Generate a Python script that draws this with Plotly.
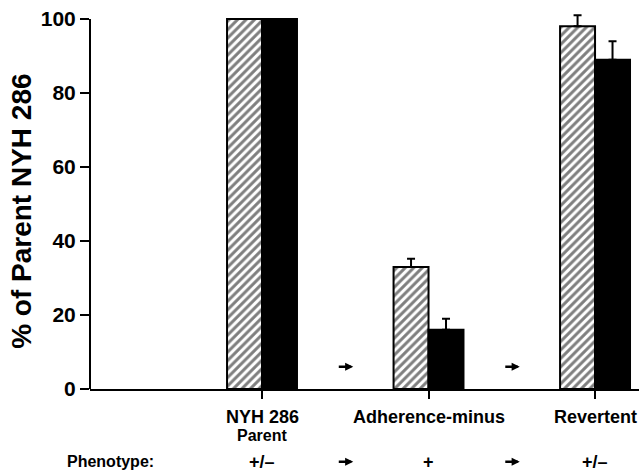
import plotly.graph_objects as go

# ---- data ----
categories = ["NYH 286", "Adherence-minus", "Revertent"]
subtitles = ["Parent", "", ""]
x_pos = [1, 2, 3]
hatched_vals = [100, 33, 98]
hatched_err = [None, 2.2, 3]
black_vals = [100, 16, 89]
black_err = [None, 3, 5]
phenotype = ["+/\u2013", "+", "+/\u2013"]
arrow_x = [1.5, 2.5]
yticks = [0, 20, 40, 60, 80, 100]

FONT = "Liberation Sans"

def f(size):
    return dict(family=FONT, size=size, color="black", weight="bold")

fig = go.Figure()
fig.add_trace(go.Bar(
    x=x_pos, y=hatched_vals,
    marker=dict(color="white", line=dict(color="black", width=2),
                pattern=dict(shape="/", fgcolor="black", bgcolor="white", size=6, solidity=0.5)),
    error_y=dict(type="data", array=hatched_err, arrayminus=[0, 0, 0], symmetric=False,
                 color="black", thickness=2, width=4),
    showlegend=False,
))
fig.add_trace(go.Bar(
    x=x_pos, y=black_vals,
    marker=dict(color="black", line=dict(color="black", width=2)),
    error_y=dict(type="data", array=black_err, arrayminus=[0, 0, 0], symmetric=False,
                 color="black", thickness=2, width=4),
    showlegend=False,
))

annotations = []
# category labels
for xv, lab, sub in zip(x_pos, categories, subtitles):
    annotations.append(dict(x=xv, y=-0.073, xref="x", yref="paper", text=lab, showarrow=False,
                            yanchor="middle", xanchor="center", font=f(18)))
    if sub:
        annotations.append(dict(x=xv, y=-0.121, xref="x", yref="paper", text=sub, showarrow=False,
                                yanchor="middle", xanchor="center", font=f(16)))
# phenotype row
annotations.append(dict(x=0.038, y=-0.19, xref="paper", yref="paper", text="Phenotype:",
                        showarrow=False, xanchor="center", yanchor="middle", font=f(16)))
for xv, ph in zip(x_pos, phenotype):
    annotations.append(dict(x=xv, y=-0.19, xref="x", yref="paper", text=ph, showarrow=False,
                            xanchor="center", yanchor="middle", font=f(18)))
# arrows
arrow_style = dict(text="", showarrow=True, arrowhead=2, arrowsize=0.65, arrowwidth=2.5,
                   arrowcolor="black", ax=-16, ay=0, xshift=8)
for ax_ in arrow_x:
    annotations.append(dict(x=ax_, y=6, xref="x", yref="y", **arrow_style))
    annotations.append(dict(x=ax_, y=-0.19, xref="x", yref="paper", **arrow_style))
# y title
annotations.append(dict(x=-0.124, y=0.465, xref="paper", yref="paper", text="% of Parent NYH 286",
                        textangle=-90, showarrow=False, xanchor="center", yanchor="middle",
                        font=f(28)))

fig.update_layout(
    width=639, height=474,
    margin=dict(l=90, r=0, t=6, b=85),
    paper_bgcolor="white", plot_bgcolor="white",
    barmode="group", bargap=0.58, bargroupgap=0,
    annotations=annotations,
    shapes=[dict(type="line", xref="paper", yref="y", x0=0, x1=0, y0=0, y1=100,
                 line=dict(color="black", width=2))],
    font=dict(family=FONT, color="black"),
)
fig.update_xaxes(range=[-0.033, 3.264], tickvals=x_pos, showticklabels=False,
                 ticks="outside", ticklen=8, tickwidth=2, tickcolor="black",
                 showline=True, linecolor="black", linewidth=2, showgrid=False, zeroline=False)
fig.update_yaxes(range=[0, 103.5], tickvals=yticks, ticks="outside", ticklen=9, tickwidth=2,
                 tickcolor="black", showline=False, showgrid=False, zeroline=False,
                 tickfont=f(21))

fig.write_html("out.html")
